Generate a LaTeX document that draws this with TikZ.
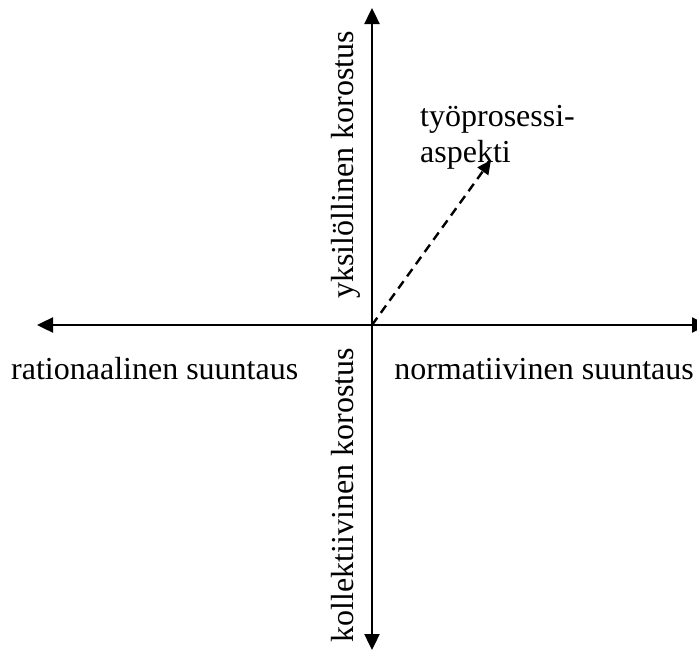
\documentclass[tikz,border=0pt]{standalone}
\usepackage{fontspec}
\setmainfont{Liberation Serif}
\usetikzlibrary{arrows.meta}
\begin{document}
\begin{tikzpicture}[x=1pt,y=-1pt,
  axis/.style={line width=2.4pt,{Triangle[length=16pt,width=15pt]}-{Triangle[length=16pt,width=15pt]}},
  dasharrow/.style={line width=2.4pt,dash pattern=on 9pt off 6pt,-{Triangle[length=14pt,width=13pt]}},
  lbl/.style={inner sep=0pt,font=\fontsize{32}{36}\selectfont}]
\useasboundingbox (0,0) rectangle (697,651);
\coordinate (left) at (37,325);
\coordinate (right) at (708,325);
\coordinate (top) at (372,8);
\coordinate (bottom) at (372,650);
\coordinate (o) at (372,325);
\coordinate (tip) at (491,160);
\draw[axis] (left) -- (right);
\draw[axis] (bottom) -- (top);
\draw[dasharrow] (o) -- (tip);
\node[lbl,anchor=base west] (rat) at (11,379) {rationaalinen suuntaus};
\node[lbl,anchor=base east] (norm) at (694,379) {normatiivinen suuntaus};
\node[lbl,anchor=base,rotate=90] (yks) at (353,165) {yksilöllinen korostus};
\node[lbl,anchor=base,rotate=90] (kol) at (353,495) {kollektiivinen korostus};
\node[lbl,anchor=base west,align=left] (tyo) at (420,162) {työprosessi-\\aspekti};
\end{tikzpicture}
\end{document}
